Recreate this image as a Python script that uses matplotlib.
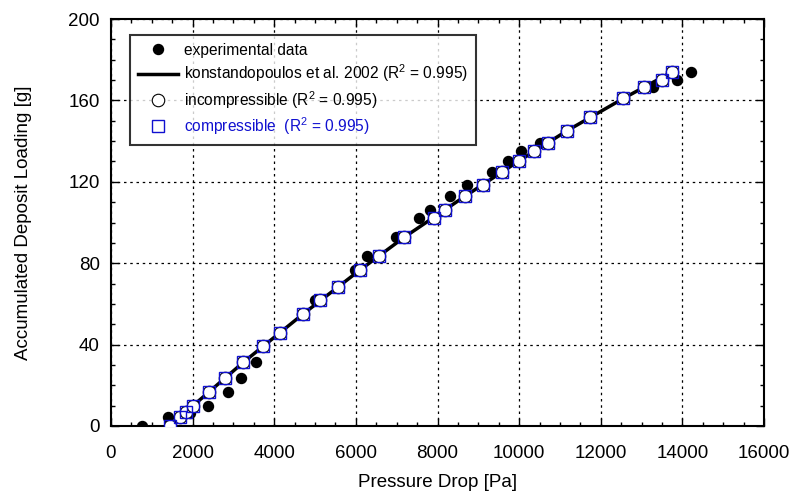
import matplotlib
matplotlib.use("Agg")
from matplotlib import pyplot
from matplotlib.ticker import MultipleLocator

pyplot.rcParams['font.family'] = ['Liberation Sans', 'DejaVu Sans']
pyplot.rcParams['mathtext.fontset'] = 'custom'
pyplot.rcParams['mathtext.rm'] = 'Liberation Sans'
pyplot.rcParams['mathtext.it'] = 'Liberation Sans:italic'

# 実験データ (圧力損失 [Pa], 堆積量 [g])
exp_dp = [760, 1400, 1940, 2370, 2875, 3186, 3546, 3700, 4150, 4680, 5000,
          5560, 5980, 6282, 6985, 7550, 7820, 8300, 8720, 9330, 9738, 10042,
          10515, 11160, 11740, 12560, 13290, 13865, 14200]
exp_load = [0, 4.3, 6.4, 9.8, 16.9, 23.4, 31.3, 39.3, 45.5, 54.9, 61.9,
            68.5, 76.7, 83.5, 92.7, 102, 106, 113, 118.4, 125, 130.4, 135.3,
            139.2, 145, 151.7, 161, 166.7, 170, 174]

# モデル計算 (非圧縮 / 圧縮)
model_dp = [1446, 1690, 1838, 2000, 2410, 2794, 3243, 3716, 4150, 4698, 5122,
            5571, 6103, 6576, 7181, 7920, 8180, 8680, 9110, 9574, 10007, 10375,
            10701, 11167, 11740, 12557, 13064, 13493, 13750]
model_load = [0, 4.4, 7, 9.8, 16.9, 23.7, 31.3, 39.3, 45.5, 54.9, 61.9,
              68.5, 76.7, 83.5, 92.7, 102, 106, 113, 118.4, 125, 130.4, 135.1,
              139.2, 145, 151.7, 161, 166.4, 170, 174]

# konstandopoulos et al. 2002
line_dp = [1446, 2000, 3243, 4698, 6103, 7181, 8680, 10007, 11167, 12557, 13750]
line_load = [0, 9.8, 31.3, 54.9, 76.7, 92.7, 113, 130.4, 145, 161, 174]

fig = pyplot.figure(figsize=(7.91, 4.95), dpi=100)
ax = fig.add_axes([111 / 791, 1 - 426 / 495, 653 / 791, 407 / 495])

ax.plot(exp_dp, exp_load, 'o', color='black', markersize=7.2,
        label='experimental data', zorder=3)
ax.plot(line_dp, line_load, '-', color='black', linewidth=2.5,
        label='konstandopoulos et al. 2002 (R$^2$ = 0.995)', zorder=2)
ax.plot(model_dp, model_load, 'o', markerfacecolor='white',
        markeredgecolor='black', markeredgewidth=0.8, markersize=9,
        linestyle='none', label='incompressible (R$^2$ = 0.995)', zorder=4)
ax.plot(model_dp, model_load, 's', markerfacecolor='none',
        markeredgecolor='#1010d0', markeredgewidth=1.0, markersize=9,
        linestyle='none', label='compressible  (R$^2$ = 0.995)', zorder=5)

ax.set_xlim(0, 16000)
ax.set_ylim(0, 200)
ax.xaxis.set_major_locator(MultipleLocator(2000))
ax.xaxis.set_minor_locator(MultipleLocator(500))
ax.yaxis.set_major_locator(MultipleLocator(40))
ax.yaxis.set_minor_locator(MultipleLocator(10))
ax.tick_params(which='both', direction='in', top=True, right=True,
               labelsize=13.5, width=1)
ax.tick_params(which='major', length=6)
ax.tick_params(which='minor', length=3)
ax.tick_params(axis='x', which='major', pad=14)
ax.tick_params(axis='y', which='major', pad=8)
for s in ax.spines.values():
    s.set_linewidth(1.5)

ax.grid(which='major', color='black', linestyle=(0, (2, 3)), linewidth=0.9)

ax.set_xlabel('Pressure Drop [Pa]', fontsize=13.5, labelpad=8)
ax.set_ylabel('Accumulated Deposit Loading [g]', fontsize=13.5, labelpad=26)

leg = ax.legend(loc='upper left', bbox_to_anchor=(19 / 653, 1 - 16 / 407),
                fontsize=11.2, frameon=True, fancybox=False, shadow=False,
                handlelength=2.6, handletextpad=0.4, labelspacing=0.3,
                borderpad=0.5, borderaxespad=0)
leg.get_frame().set_edgecolor('black')
leg.get_frame().set_linewidth(1.5)
leg.texts[3].set_color('#1010d0')

fig.savefig('out.png', dpi=100)
